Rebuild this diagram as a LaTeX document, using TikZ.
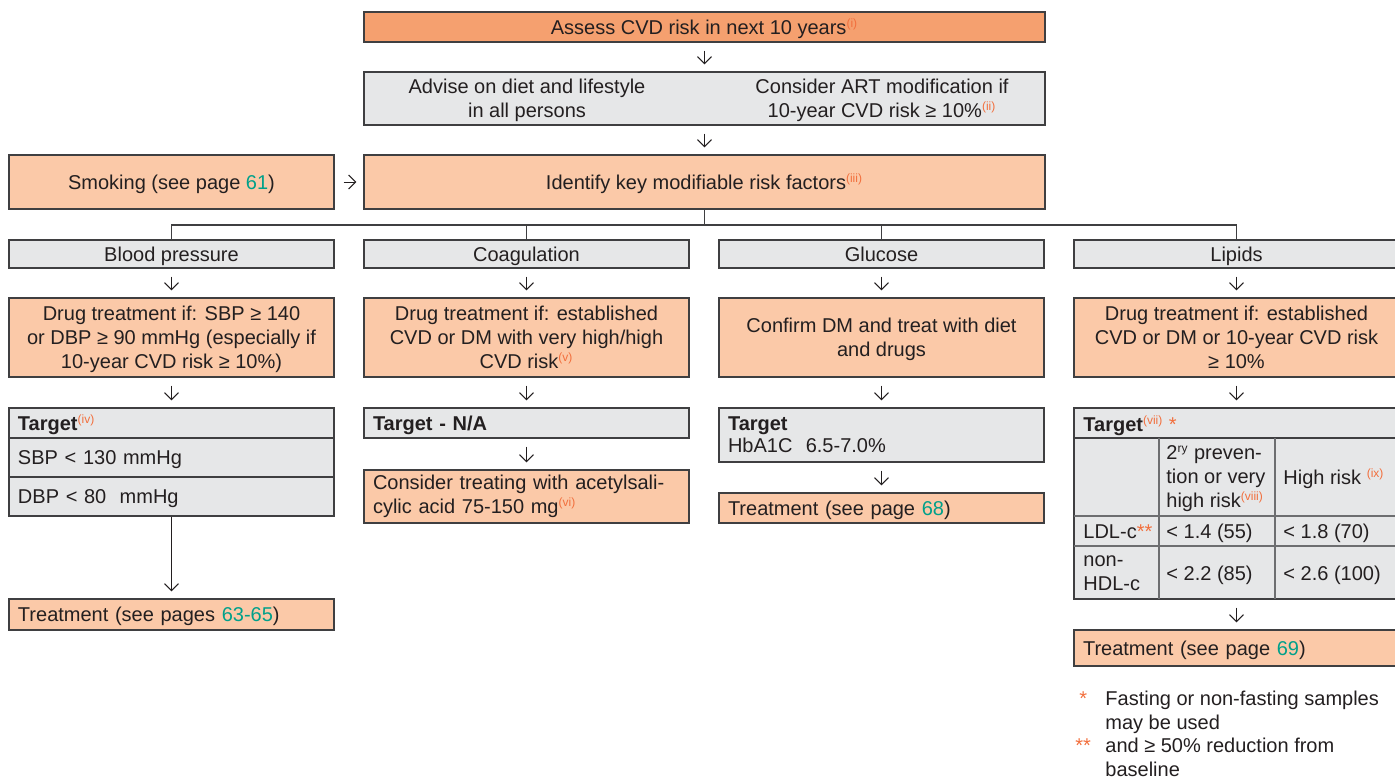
\documentclass[tikz,border=0pt]{standalone}
\usepackage{fontspec}
\setmainfont{Liberation Sans}
\usetikzlibrary{arrows.meta}
\usetikzlibrary{positioning}

\definecolor{darkor}{HTML}{F5A06F}
\definecolor{lightor}{HTML}{FBC9A8}
\definecolor{panel}{HTML}{E6E7E8}
\definecolor{edge}{HTML}{3F3F41}
\definecolor{cellline}{HTML}{6D6E70}
\definecolor{txt}{HTML}{231F20}
\definecolor{accent}{HTML}{F26F3D}
\definecolor{pagegreen}{HTML}{00A08A}

\newcommand{\refmark}[1]{\textsuperscript{\fontsize{6}{6}\selectfont\color{accent}#1}}
\newcommand{\pg}[1]{\textcolor{pagegreen}{#1}}

\begin{document}
\begin{tikzpicture}[x=0.5pt,y=-0.5pt,
    every node/.style={font=\fontsize{10}{12}\selectfont,text=txt,inner sep=0pt,text depth=0pt},
    oneline/.style={text height=7.3pt},
    box/.style={draw=edge,line width=0.7pt,minimum width=162.5pt,minimum height=15pt},
    darkbox/.style={box,fill=darkor},
    lightbox/.style={box,fill=lightor},
    greybox/.style={box,fill=panel},
    leftbox/.style={text width=153.5pt,inner xsep=4.5pt,align=left},
    arr/.style={-{Straight Barb[length=3.5pt,width=7pt]},line width=0.5pt,draw=txt,
        shorten <=4pt,shorten >=3.5pt},
    link/.style={line width=0.6pt,draw=edge}]

    \useasboundingbox (0,0) rectangle (1395,778);

    % top of the chart
    \node[darkbox,oneline,minimum width=340.5pt] (assess) at (704.5,27)
        {Assess CVD risk in next 10 years\refmark{(i)}};
    \node[greybox,minimum width=340.5pt,minimum height=26.5pt] (advise) at (704.5,98.5) {};
    \node[align=center] (diet) at ([xshift=-88.75pt]advise.center)
        {Advise on diet and lifestyle\\in all persons};
    \node[align=center] (art) at ([xshift=88.75pt]advise.center)
        {Consider ART modification if\\10-year CVD risk ≥ 10\%\refmark{(ii)}};
    \node[lightbox,oneline,minimum width=340.5pt,minimum height=27pt] (identify) at (704.5,182)
        {Identify key modifiable risk factors\refmark{(iii)}};
    \node[lightbox,oneline,minimum height=27pt] (smoking) at (171.5,182)
        {Smoking (see page \pg{61})};

    \draw[arr] (assess) -- (advise);
    \draw[arr] (advise) -- (identify);
    \draw[arr,shorten <=4.5pt] (smoking) -- (identify);

    % the four risk factors
    \node[greybox,oneline,minimum height=14pt] (bp) at (171.5,254) {Blood pressure};
    \node[greybox,oneline,minimum height=14pt] (coag) at (526.5,254) {Coagulation};
    \node[greybox,oneline,minimum height=14pt] (gluc) at (881.5,254) {Glucose};
    \node[greybox,oneline,minimum height=14pt] (lipids) at (1236.5,254) {Lipids};

    \coordinate (branch) at (704.5,225);
    \draw[link] (identify) -- (branch);
    \foreach \n in {bp,coag,gluc,lipids}
        \draw[link] (\n.north) |- (branch);

    \node[lightbox,minimum height=39.5pt,align=center] (bpdrug) at (171.5,337.5)
        {Drug treatment if: SBP ≥ 140\\or DBP ≥ 90 mmHg (especially if\\10-year CVD risk ≥ 10\%)};
    \node[lightbox,minimum height=39.5pt,align=center] (coagdrug) at (526.5,337.5)
        {Drug treatment if: established\\CVD or DM with very high/high\\CVD risk\refmark{(v)}};
    \node[lightbox,minimum height=39.5pt,align=center] (glucdrug) at (881.5,337.5)
        {Confirm DM and treat with diet\\and drugs};
    \node[lightbox,minimum height=39.5pt,align=center] (lipdrug) at (1236.5,337.5)
        {Drug treatment if: established\\CVD or DM or 10-year CVD risk\\≥ 10\%};

    % blood pressure
    \node[greybox,leftbox,oneline,minimum height=15pt] (bphead) at (171.5,423)
        {\textbf{Target}\refmark{(iv)}};
    \node[greybox,leftbox,oneline,minimum height=19.5pt] (bpsbp) at (171.5,457.5) {SBP < 130 mmHg};
    \node[greybox,leftbox,oneline,minimum height=19.5pt] (bpdbp) at (171.5,496.5) {DBP < 80\ \ mmHg};
    \node[lightbox,leftbox,oneline,minimum height=15.5pt] (bptreat) at (171.5,614.5)
        {Treatment (see pages \pg{63-65})};

    % coagulation
    \node[greybox,leftbox,oneline,minimum height=15pt] (coagtarget) at (526.5,423) {\textbf{Target - N/A}};
    \node[lightbox,leftbox,text depth={},minimum height=26.5pt] (coagtreat) at (526.5,496.5)
        {Consider treating with acetylsali-\\cylic acid 75-150 mg\refmark{(vi)}};

    % glucose
    \node[greybox,leftbox,text depth={},minimum height=27pt] (gluctarget) at (881.5,435)
        {\textbf{Target}\\[-1pt]HbA1C\ \ 6.5-7.0\%};
    \node[lightbox,leftbox,oneline,minimum height=15pt] (gluctreat) at (881.5,508)
        {Treatment (see page \pg{68})};

    % lipids table
    \node[greybox,minimum height=95.5pt] (liptarget) at (1236.5,503.5) {};
    \draw[link] (1074,438) -- (1399,438);
    \draw[cellline,line width=0.6pt] (1074,516) -- (1399,516) (1074,546) -- (1399,546)
        (1159,438) -- (1159,599) (1275,438) -- (1275,599);
    \node[anchor=west,oneline] (liphead) at (1083,424) {\textbf{Target}\refmark{(vii)} \textcolor{accent}{*}};
    \node[anchor=west,align=left] (secprev) at (1166,477)
        {2\textsuperscript{\fontsize{6}{6}\selectfont ry} preven-\\tion or very\\high risk\refmark{(viii)}};
    \node[anchor=west,oneline] (highrisk) at (1283,477) {High risk \refmark{(ix)}};
    \node[anchor=west,oneline] (ldl) at (1083,531) {LDL-c\textcolor{accent}{**}};
    \node[anchor=west,oneline] (ldla) at (1166,531) {< 1.4 (55)};
    \node[anchor=west,oneline] (ldlb) at (1283,531) {< 1.8 (70)};
    \node[anchor=west,align=left] (nonhdl) at (1083,573) {non-\\HDL-c};
    \node[anchor=west,oneline] (nonhdla) at (1166,573) {< 2.2 (85)};
    \node[anchor=west,oneline] (nonhdlb) at (1283,573) {< 2.6 (100)};
    \node[lightbox,leftbox,oneline,minimum height=18pt] (liptreat) at (1236.5,648)
        {Treatment (see page \pg{69})};

    % arrows down each column
    \foreach \a/\b in {bp/bpdrug,bpdrug/bphead,coag/coagdrug,coagdrug/coagtarget,
        coagtarget/coagtreat,gluc/glucdrug,glucdrug/gluctarget,gluctarget/gluctreat,
        lipids/lipdrug,lipdrug/liptarget,liptarget/liptreat}
        \draw[arr] (\a) -- (\b);
    \draw[arr,shorten <=0pt] (bpdbp) -- (bptreat);

    % footnotes
    \node[anchor=base west,text=accent] (star1) at (1079,705) {*};
    \node[anchor=base west,align=left] (note1) at (1105,729)
        {Fasting or non-fasting samples\\may be used};
    \node[anchor=base west,text=accent] (star2) at (1075,752) {**};
    \node[anchor=base west,align=left] (note2) at (1105,776)
        {and ≥ 50\% reduction from\\baseline};
\end{tikzpicture}
\end{document}
